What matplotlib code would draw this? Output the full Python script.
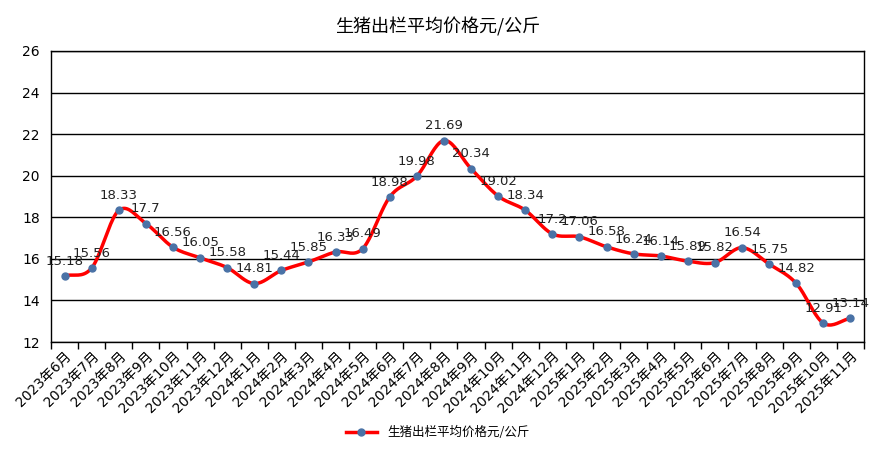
import numpy as np
import matplotlib
matplotlib.use('Agg')
import matplotlib.pyplot as plt

plt.rcParams['font.family'] = ['DejaVu Sans', 'Noto Sans CJK SC']

# 月份和价格
months = ['2023年6月', '2023年7月', '2023年8月', '2023年9月', '2023年10月', '2023年11月', '2023年12月',
          '2024年1月', '2024年2月', '2024年3月', '2024年4月', '2024年5月', '2024年6月', '2024年7月',
          '2024年8月', '2024年9月', '2024年10月', '2024年11月', '2024年12月',
          '2025年1月', '2025年2月', '2025年3月', '2025年4月', '2025年5月', '2025年6月', '2025年7月',
          '2025年8月', '2025年9月', '2025年10月', '2025年11月']
prices = [15.18, 15.56, 18.33, 17.7, 16.56, 16.05, 15.58, 14.81, 15.44, 15.85, 16.33, 16.49,
          18.98, 19.98, 21.69, 20.34, 19.02, 18.34, 17.2, 17.06, 16.58, 16.24, 16.14, 15.89,
          15.82, 16.54, 15.75, 14.82, 12.91, 13.14]
series_name = '生猪出栏平均价格元/公斤'


def smooth_curve(x, y, n=20):
    # Catmull-Rom 平滑, 只用于画线
    x = np.asarray(x, float)
    y = np.asarray(y, float)
    px = np.concatenate([[2 * x[0] - x[1]], x, [2 * x[-1] - x[-2]]])
    py = np.concatenate([[2 * y[0] - y[1]], y, [2 * y[-1] - y[-2]]])
    xs, ys = [], []
    t = np.linspace(0, 1, n, endpoint=False)
    for i in range(1, len(px) - 2):
        for p, out in ((px, xs), (py, ys)):
            p0, p1, p2, p3 = p[i - 1], p[i], p[i + 1], p[i + 2]
            out.extend(0.5 * ((2 * p1) + (-p0 + p2) * t + (2 * p0 - 5 * p1 + 4 * p2 - p3) * t ** 2
                              + (-p0 + 3 * p1 - 3 * p2 + p3) * t ** 3))
    xs.append(x[-1])
    ys.append(y[-1])
    return np.array(xs), np.array(ys)


x = np.arange(len(months))
fig = plt.figure(figsize=(8.75, 4.53), dpi=100)
ax = fig.add_axes([0.0583, 0.245, 0.9291, 0.6425])

sx, sy = smooth_curve(x, prices)
ax.plot(sx, sy, color='red', lw=2.5, zorder=2)
ax.plot(x, prices, 'o', color='#4a72a6', ms=5, zorder=3)
# 图例用的组合样式
ax.plot([], [], color='red', lw=2.5, marker='o', mfc='#4a72a6', mec='#4a72a6', ms=5, label=series_name)

for xi, v in zip(x, prices):
    ax.annotate(f'{v:g}', (xi, v), xytext=(0, 6), textcoords='offset points',
                ha='center', va='bottom', fontsize=9.5, color='#222222')

ax.set_xlim(-0.5, len(months) - 0.5)
ax.set_ylim(12, 26)
ax.set_yticks(np.arange(12, 27, 2))
ax.yaxis.grid(True, color='black', lw=1)
ax.set_axisbelow(True)
ax.tick_params(axis='y', length=0, labelsize=10, pad=8)

ax.set_xticks(np.arange(-0.5, len(months), 1), minor=False)
ax.set_xticklabels([])
ax.set_xticks(x, minor=True)
ax.set_xticklabels(months, minor=True, rotation=45, ha='right', rotation_mode='anchor', fontsize=10)
ax.tick_params(axis='x', which='major', length=5, direction='out', width=1)
ax.tick_params(axis='x', which='minor', length=0, pad=5)

for s in ax.spines.values():
    s.set_color('black')
    s.set_linewidth(1)

fig.text(0.5, 0.94, series_name, ha='center', va='center', fontsize=13,
         family=['Noto Sans CJK SC'])
fig.legend(loc='center', bbox_to_anchor=(0.5, 0.045), frameon=False,
           handlelength=2.5, prop={'family': ['Noto Sans CJK SC'], 'size': 9})

fig.savefig('out.png', dpi=100)
